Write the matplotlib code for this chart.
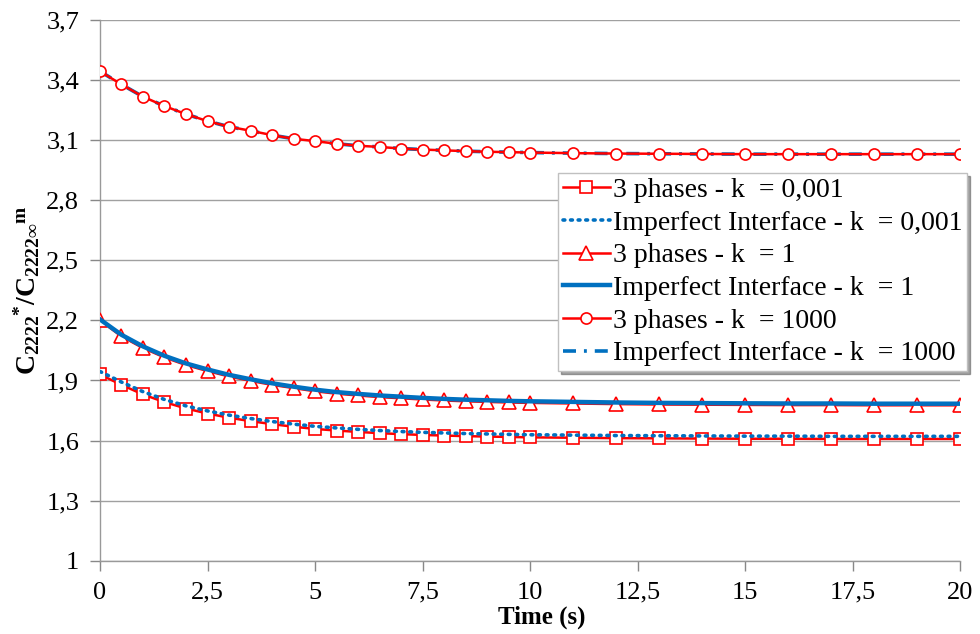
import matplotlib
matplotlib.use("Agg")
import matplotlib.pyplot as plt
from matplotlib.ticker import FuncFormatter

plt.rcParams['font.family'] = ['Liberation Serif', 'DejaVu Serif']
plt.rcParams['mathtext.fontset'] = 'custom'
plt.rcParams['mathtext.rm'] = 'Liberation Serif'
plt.rcParams['mathtext.bf'] = 'Liberation Serif:bold'
plt.rcParams['mathtext.it'] = 'Liberation Serif:italic'

time = [0, 0.5, 1, 1.5, 2, 2.5, 3, 3.5, 4, 4.5, 5, 5.5, 6, 6.5, 7, 7.5, 8, 8.5, 9, 9.5, 10,
        11, 12, 13, 14, 15, 16, 17, 18, 19, 20]

ph3_k0001 = [1.930, 1.878, 1.830, 1.792, 1.760, 1.735, 1.714, 1.697, 1.682, 1.669, 1.658,
             1.650, 1.643, 1.637, 1.632, 1.628, 1.625, 1.622, 1.620, 1.618, 1.616,
             1.614, 1.612, 1.611, 1.610, 1.609, 1.609, 1.608, 1.608, 1.608, 1.608]
imp_k0001 = [1.945, 1.892, 1.844, 1.805, 1.773, 1.748, 1.727, 1.710, 1.695, 1.682, 1.671,
             1.663, 1.656, 1.650, 1.645, 1.641, 1.638, 1.635, 1.633, 1.631, 1.629,
             1.627, 1.625, 1.624, 1.623, 1.622, 1.622, 1.621, 1.621, 1.621, 1.621]
ph3_k1 = [2.200, 2.120, 2.062, 2.015, 1.977, 1.947, 1.920, 1.898, 1.878, 1.862, 1.846,
          1.834, 1.825, 1.817, 1.811, 1.805, 1.800, 1.796, 1.793, 1.790, 1.788,
          1.785, 1.782, 1.780, 1.779, 1.778, 1.777, 1.777, 1.776, 1.776, 1.776]
imp_k1 = [2.205, 2.128, 2.070, 2.023, 1.985, 1.955, 1.928, 1.906, 1.886, 1.869, 1.854,
          1.842, 1.833, 1.825, 1.819, 1.813, 1.808, 1.804, 1.801, 1.798, 1.796,
          1.793, 1.790, 1.788, 1.787, 1.786, 1.785, 1.785, 1.784, 1.784, 1.784]
ph3_k1000 = [3.444, 3.378, 3.317, 3.270, 3.230, 3.195, 3.167, 3.147, 3.125, 3.107, 3.095,
             3.082, 3.072, 3.066, 3.058, 3.053, 3.049, 3.045, 3.042, 3.040, 3.038,
             3.035, 3.033, 3.032, 3.031, 3.030, 3.030, 3.030, 3.030, 3.030, 3.030]
imp_k1000 = [3.444, 3.378, 3.317, 3.270, 3.230, 3.195, 3.167, 3.147, 3.125, 3.107, 3.095,
             3.082, 3.072, 3.066, 3.058, 3.053, 3.049, 3.045, 3.042, 3.040, 3.038,
             3.035, 3.033, 3.032, 3.031, 3.030, 3.030, 3.030, 3.030, 3.030, 3.030]

x_ticks = [0, 2.5, 5, 7.5, 10, 12.5, 15, 17.5, 20]
y_ticks = [1, 1.3, 1.6, 1.9, 2.2, 2.5, 2.8, 3.1, 3.4, 3.7]

labels = ['3 phases - k  = 0,001', 'Imperfect Interface - k  = 0,001',
          '3 phases - k  = 1', 'Imperfect Interface - k  = 1',
          '3 phases - k  = 1000', 'Imperfect Interface - k  = 1000']

RED = '#ff0000'
BLUE = '#0070c0'

fig = plt.figure(figsize=(9.8, 6.34), dpi=100)
ax = fig.add_axes([0.102, 0.1156, 0.878, 0.8529])

mk = dict(markerfacecolor='white', markeredgecolor=RED, markeredgewidth=1.2)
h1, = ax.plot(time, ph3_k0001, color=RED, lw=1.8, marker='s', markersize=8.5, zorder=3, **mk)
h2, = ax.plot(time, imp_k0001, color=BLUE, lw=2.6, linestyle=(0, (0.5, 1.6)),
              dash_capstyle='round', zorder=4)
h3, = ax.plot(time, ph3_k1, color=RED, lw=1.8, marker='^', markersize=9.5, zorder=3, **mk)
h4, = ax.plot(time, imp_k1, color=BLUE, lw=3.2, zorder=4)
h6, = ax.plot(time, imp_k1000, color=BLUE, lw=2.6, linestyle=(0, (3.6, 2.2, 0.8, 2.2)), zorder=2)
h5, = ax.plot(time, ph3_k1000, color=RED, lw=1.8, marker='o', markersize=8, zorder=3, **mk)

ax.set_xlim(0, 20)
ax.set_ylim(1, 3.7)
ax.set_xticks(x_ticks)
ax.set_yticks(y_ticks)
fmt = FuncFormatter(lambda v, p: ('%g' % v).replace('.', ','))
ax.xaxis.set_major_formatter(fmt)
ax.yaxis.set_major_formatter(fmt)
ax.tick_params(axis='both', labelsize=19, colors='#888888', labelcolor='black',
               length=7, width=1)
ax.tick_params(axis='x', pad=8)
ax.tick_params(axis='y', pad=8)
ax.grid(axis='y', color='#a0a0a0', lw=1)
ax.set_axisbelow(True)
for s in ['top', 'right']:
    ax.spines[s].set_visible(False)
for s in ['left', 'bottom']:
    ax.spines[s].set_color('#999999')
    ax.spines[s].set_linewidth(1)

ax.set_xlabel('Time (s)', fontsize=18, fontweight='bold')
ax.xaxis.set_label_coords(0.514, -0.083)
ax.set_ylabel(r'$\mathbf{C_{2222}}^{\mathbf{*}}\mathbf{/C_{2222\infty}}^{\mathbf{m}}$',
              fontsize=20, labelpad=3)

leg = ax.legend([h1, h2, h3, h4, h5, h6], labels, loc='upper right',
                bbox_to_anchor=(1.008, 0.7167), fontsize=20, frameon=True, shadow=True,
                fancybox=False, edgecolor='#c0c0c0', handlelength=1.7, handletextpad=0.12,
                labelspacing=0.26, borderpad=0.16, borderaxespad=0)
leg.get_frame().set_linewidth(1)

fig.savefig('out.png', dpi=100)
